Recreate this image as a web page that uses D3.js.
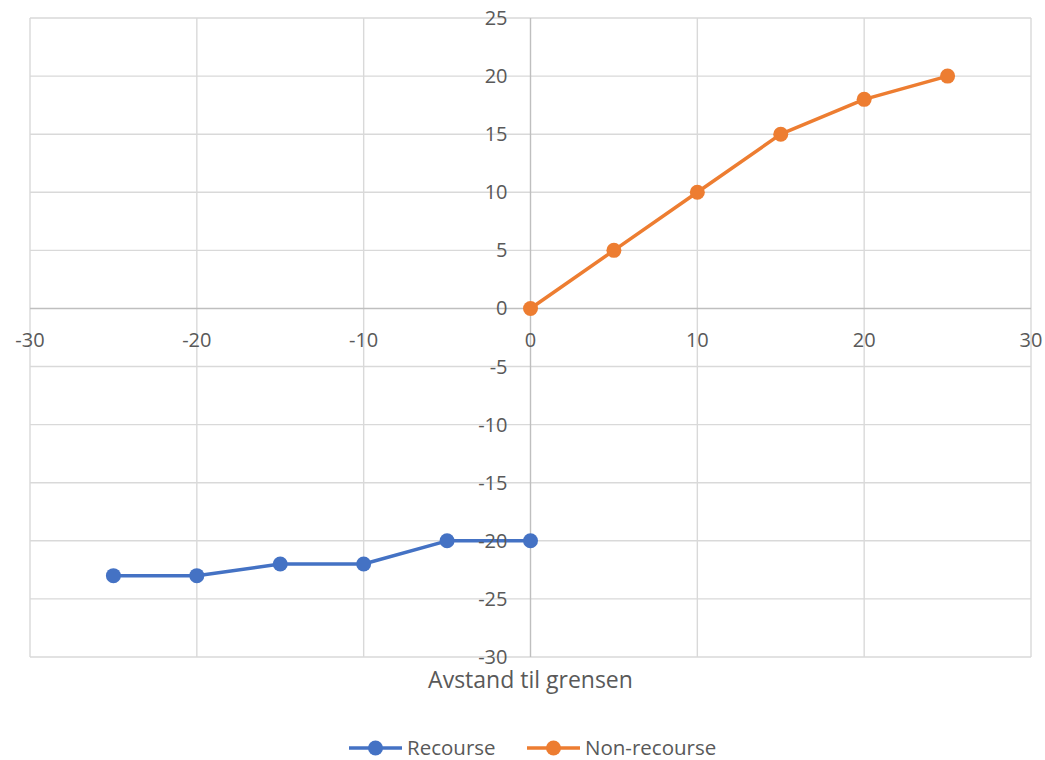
<!DOCTYPE html>
<html>
<head>
<meta charset="utf-8">
<script src="https://cdn.jsdelivr.net/npm/d3@7"></script>
<style>
  html, body { margin: 0; padding: 0; background: #ffffff; }
  svg { display: block; }
  text { font-family: "Open Sans", "Noto Sans", sans-serif; fill: #595959; }
</style>
</head>
<body>
<svg id="chart" width="1045" height="760"></svg>
<script>
const recourseX = [-25, -20, -15, -10, -5, 0];
const recourseY = [-23, -23, -22, -22, -20, -20];
const nonRecourseX = [0, 5, 10, 15, 20, 25];
const nonRecourseY = [0, 5, 10, 15, 18, 20];
const xTicks = [-30, -20, -10, 0, 10, 20, 30];
const yTicks = [25, 20, 15, 10, 5, 0, -5, -10, -15, -20, -25, -30];
const seriesNames = ["Recourse", "Non-recourse"];
const seriesColors = ["#4472C4", "#ED7D31"];
const xTitle = "Avstand til grensen";

(function () {
const series = [
  { name: seriesNames[0], color: seriesColors[0], pts: recourseX.map((x, i) => ({ x, y: recourseY[i] })) },
  { name: seriesNames[1], color: seriesColors[1], pts: nonRecourseX.map((x, i) => ({ x, y: nonRecourseY[i] })) }
];

const svg = d3.select("#chart");
const pLeft = 30, pRight = 1031, pTop = 18, pBottom = 657;
const x = d3.scaleLinear().domain([-30, 30]).range([pLeft, pRight]);
const y = d3.scaleLinear().domain([-30, 25]).range([pBottom, pTop]);

const xGridTicks = d3.range(-30, 31, 10);
const yGridTicks = d3.range(-30, 26, 5);

const grid = svg.append("g");
grid.selectAll("line.v").data(xGridTicks.filter(d => d !== 0)).join("line")
  .attr("x1", d => x(d)).attr("x2", d => x(d))
  .attr("y1", pTop).attr("y2", pBottom)
  .attr("stroke", "#d9d9d9").attr("stroke-width", 1.4);
grid.selectAll("line.h").data(yGridTicks.filter(d => d !== 0)).join("line")
  .attr("y1", d => y(d)).attr("y2", d => y(d))
  .attr("x1", pLeft).attr("x2", pRight)
  .attr("stroke", "#d9d9d9").attr("stroke-width", 1.4);

svg.append("line").attr("x1", pLeft).attr("x2", pRight).attr("y1", y(0)).attr("y2", y(0))
  .attr("stroke", "#bfbfbf").attr("stroke-width", 1.4);
svg.append("line").attr("x1", x(0)).attr("x2", x(0)).attr("y1", pTop).attr("y2", pBottom)
  .attr("stroke", "#bfbfbf").attr("stroke-width", 1.4);

const line = d3.line().x(d => x(d.x)).y(d => y(d.y));
series.forEach(s => {
  svg.append("path").datum(s.pts).attr("d", line)
    .attr("fill", "none").attr("stroke", s.color).attr("stroke-width", 3.5)
    .attr("stroke-linejoin", "round");
  svg.append("g").selectAll("circle").data(s.pts).join("circle")
    .attr("cx", d => x(d.x)).attr("cy", d => y(d.y)).attr("r", 7.5)
    .attr("fill", s.color);
});

svg.append("g").selectAll("text").data(yTicks).join("text")
  .attr("x", x(0) - 23).attr("y", d => y(d)).attr("dy", "0.35em")
  .attr("text-anchor", "end").attr("font-size", 20)
  .text(d => d);

svg.append("g").selectAll("text").data(xTicks).join("text")
  .attr("x", d => x(d)).attr("y", y(0) + 32).attr("dy", "0.35em")
  .attr("text-anchor", "middle").attr("font-size", 20)
  .text(d => d);

svg.append("text").attr("x", x(0)).attr("y", 680).attr("dy", "0.35em")
  .attr("text-anchor", "middle").attr("font-size", 23).text(xTitle);

const legendItems = [
  { name: seriesNames[0], color: seriesColors[0], x0: 349 },
  { name: seriesNames[1], color: seriesColors[1], x0: 527 }
];
const lg = svg.append("g");
legendItems.forEach(it => {
  const g = lg.append("g").attr("transform", `translate(${it.x0},748)`);
  g.append("line").attr("x1", 0).attr("x2", 53).attr("y1", 0).attr("y2", 0)
    .attr("stroke", it.color).attr("stroke-width", 3.5);
  g.append("circle").attr("cx", 26.5).attr("cy", 0).attr("r", 7.5).attr("fill", it.color);
  g.append("text").attr("x", 58).attr("y", 0).attr("dy", "0.35em")
    .attr("font-size", 20.5).text(it.name);
});
})();
</script>
</body>
</html>
